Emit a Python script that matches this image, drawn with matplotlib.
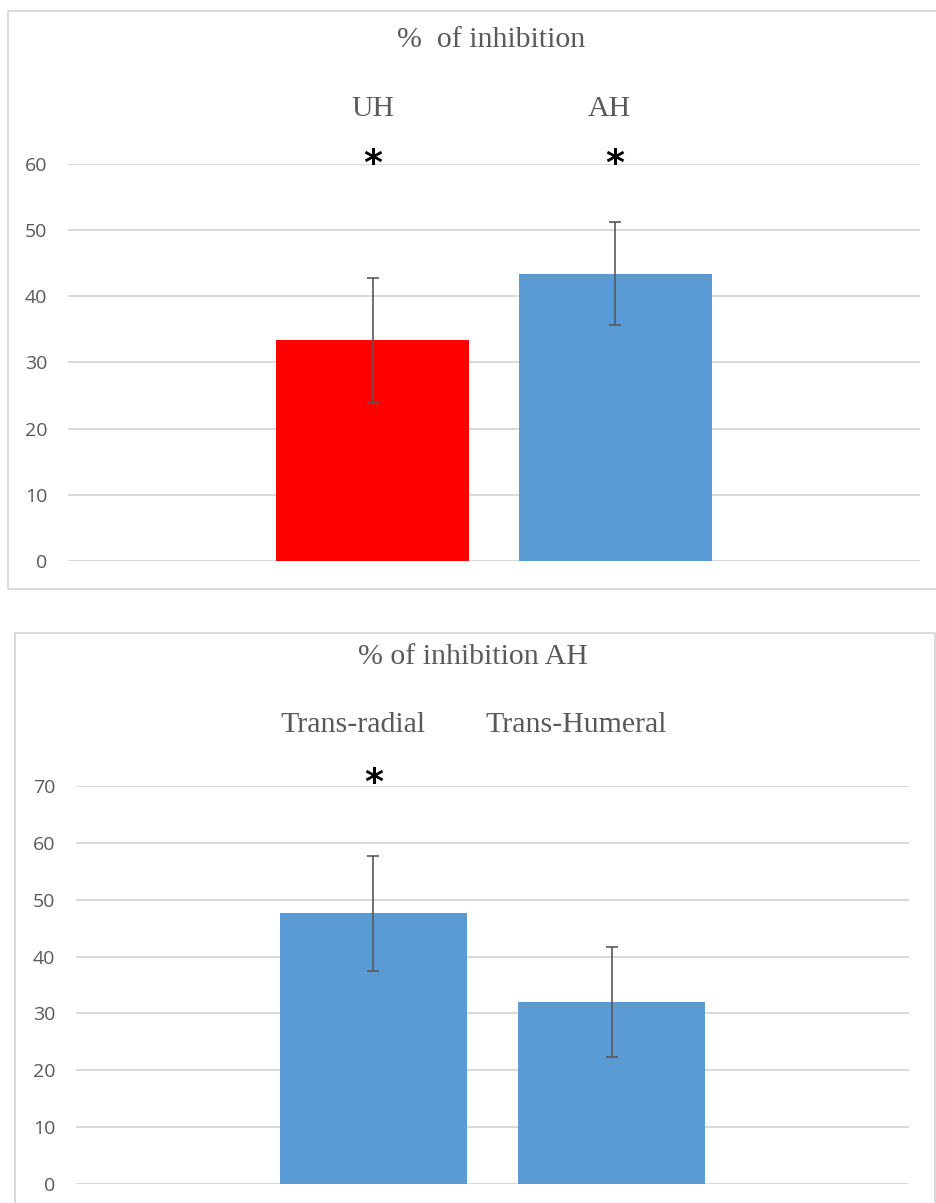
import numpy as np
import matplotlib.pyplot as plt
from matplotlib.patches import Rectangle
from matplotlib.transforms import blended_transform_factory

# datos del panel superior
grupos_1 = ["UH", "AH"]
medias_1 = [33.3, 43.4]
errores_1 = [9.5, 7.8]
colores_1 = ["#FF0000", "#5B9BD5"]
signif_1 = ["*", "*"]

# datos del panel inferior
grupos_2 = ["Trans-radial", "Trans-Humeral"]
medias_2 = [47.6, 32.0]
errores_2 = [10.15, 9.6]
colores_2 = ["#5B9BD5", "#5B9BD5"]
signif_2 = ["*", ""]

GRIS = "#595959"
REJILLA = "#D9D9D9"
SERIF = "Liberation Serif"
SANS = "Open Sans"

fig = plt.figure(figsize=(9.36, 12.03), dpi=100)
W, H = 936, 1203


def caja(x0, y0, x1, y1):
    # marco del gráfico en píxeles (origen arriba a la izquierda)
    fig.patches.append(
        Rectangle((x0 / W, 1 - y1 / H), (x1 - x0) / W, (y1 - y0) / H,
                  transform=fig.transFigure, fill=False,
                  edgecolor=REJILLA, linewidth=1.3, zorder=0)
    )


def panel(rect, grupos, medias, errores, colores, signif, ymax, xlim, ancho,
          desplaz, y_etiq, y_ast):
    ax = fig.add_axes(rect)
    xs = np.arange(len(grupos))
    ax.bar(xs, medias, width=ancho, color=colores, zorder=2)
    ax.errorbar(xs, medias, yerr=errores, fmt="none", ecolor=GRIS,
                elinewidth=1.2, capsize=4, capthick=1.2, zorder=3)
    ax.set_ylim(0, ymax)
    ax.set_xlim(*xlim)
    ax.set_yticks(np.arange(0, ymax + 1, 10))
    ax.yaxis.grid(True, color=REJILLA, linewidth=1.4, zorder=0)
    ax.set_axisbelow(True)
    ax.set_xticks([])
    for s in ax.spines.values():
        s.set_visible(False)
    ax.tick_params(axis="y", length=0, pad=15, labelsize=14, labelcolor=GRIS)
    for lab in ax.get_yticklabels():
        lab.set_fontfamily(SANS)

    trans = blended_transform_factory(ax.transData, ax.transAxes)
    for x, g, d in zip(xs, grupos, desplaz):
        ax.text(x + d, y_etiq, g, transform=trans, ha="center", va="center",
                fontsize=21.5, family=SERIF, color=GRIS)
    for x, s in zip(xs, signif):
        if s:
            ax.text(x, y_ast, s, ha="center", va="center", fontsize=26,
                    family="DejaVu Sans", fontweight="bold", color="black",
                    clip_on=False)
    return ax


# panel superior
caja(8, 11, W + 5, 589)
panel([68 / W, 1 - 561 / H, 852 / W, 397.3 / H],
      grupos_1, medias_1, errores_1, colores_1, signif_1,
      60, (-1.256, 2.257), 0.796, [0.0, -0.023], 1.137, 60.0)
fig.text(491 / W, 1 - 40 / H, "%  of inhibition", ha="center", va="center",
         fontsize=21.5, family=SERIF, color=GRIS)

# panel inferior
caja(15, 633, 935, H + 5)
panel([76 / W, 1 - 1184 / H, 833 / W, 398 / H],
      grupos_2, medias_2, errores_2, colores_2, signif_2,
      70, (-1.25, 2.25), 0.786, [-0.085, -0.148], 1.153, 70.6)
fig.text(472.5 / W, 1 - 657 / H, "% of inhibition AH", ha="center",
         va="center", fontsize=21.5, family=SERIF, color=GRIS)

fig.savefig("out.png", dpi=100)
